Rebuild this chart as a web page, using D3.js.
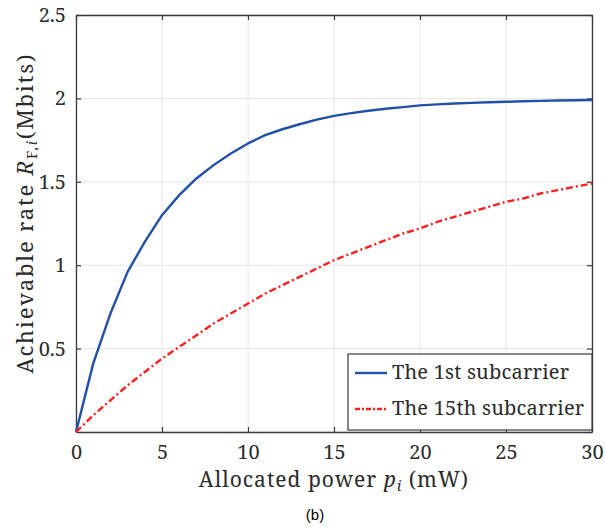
<!DOCTYPE html>
<html>
<head>
<meta charset="utf-8">
<script src="https://cdn.jsdelivr.net/npm/d3@7"></script>
<style>
  body { margin: 0; background: #fff; }
  .grid line { stroke: #e6e6e6; stroke-width: 1; }
</style>
</head>
<body>
<svg width="605" height="529"></svg>
<script>
// allocated power p_i (mW)
var power = [0, 1, 2, 3, 4, 5, 6, 7, 8, 9, 10, 11, 12, 13, 14, 15,
  16, 17, 18, 19, 20, 21, 22, 23, 24, 25, 26, 27, 28, 29, 30];

// achievable rate of the 1st subcarrier (Mbits)
var rateFirst = [0, 0.41, 0.71, 0.96, 1.14, 1.30, 1.42, 1.52, 1.60, 1.67, 1.73,
  1.78, 1.815, 1.845, 1.873, 1.895, 1.912, 1.926, 1.938, 1.948, 1.958,
  1.964, 1.969, 1.973, 1.977, 1.980, 1.983, 1.985, 1.987, 1.989, 1.99];

// achievable rate of the 15th subcarrier (Mbits)
var rateFifteenth = [0, 0.10, 0.19, 0.28, 0.36, 0.44, 0.51, 0.58, 0.65, 0.71, 0.77,
  0.83, 0.88, 0.93, 0.98, 1.03, 1.07, 1.11, 1.15, 1.19, 1.22,
  1.26, 1.29, 1.32, 1.35, 1.38, 1.40, 1.43, 1.45, 1.47, 1.49];

var xTicks = [0, 5, 10, 15, 20, 25, 30];
var yTicks = [0.5, 1, 1.5, 2, 2.5];
var yGrid = [0, 0.5, 1, 1.5, 2, 2.5];

var series = [
  { name: "The 1st subcarrier", values: rateFirst, color: "#2150a8", dash: null },
  { name: "The 15th subcarrier", values: rateFifteenth, color: "#ff1f1f", dash: "7,3,2,3" }
];

var SERIF = "'Noto Serif', 'Liberation Serif', serif";
var INK = "#2b2b2b";

var svg = d3.select("svg"),
    margin = {top: 15, right: 13, bottom: 97, left: 76},
    width = +svg.attr("width") - margin.left - margin.right,
    height = +svg.attr("height") - margin.top - margin.bottom;

var x = d3.scaleLinear().domain([0, 30]).range([0, width]);
var y = d3.scaleLinear().domain([0, 2.5]).range([height, 0]);

var g = svg.append("g")
  .attr("transform", "translate(" + margin.left + "," + margin.top + ")");

// grid
g.append("g").attr("class", "grid")
  .selectAll("line").data(xTicks).enter().append("line")
    .attr("x1", function(d) { return x(d); })
    .attr("x2", function(d) { return x(d); })
    .attr("y1", 0).attr("y2", height);
g.append("g").attr("class", "grid")
  .selectAll("line").data(yGrid).enter().append("line")
    .attr("x1", 0).attr("x2", width)
    .attr("y1", function(d) { return y(d); })
    .attr("y2", function(d) { return y(d); });

// axes with inward ticks, box on
function styleAxis(sel) {
  sel.select(".domain").attr("stroke", "#3a3a3a").attr("stroke-width", 1.3);
  sel.selectAll(".tick line").attr("stroke", "#3a3a3a").attr("stroke-width", 1.2);
  sel.selectAll("text")
    .style("font-family", SERIF)
    .style("font-size", "20px")
    .style("fill", INK);
}

g.append("g")
    .attr("transform", "translate(0," + height + ")")
    .call(d3.axisBottom(x).tickValues(xTicks).tickSizeInner(-5).tickSizeOuter(0).tickPadding(13))
    .call(styleAxis);

g.append("g")
    .call(d3.axisLeft(y).tickValues(yTicks).tickFormat(function(d) { return d; })
      .tickSizeInner(-5).tickSizeOuter(0).tickPadding(10))
    .call(styleAxis);

g.append("g")
    .call(d3.axisTop(x).tickValues(xTicks).tickSizeInner(-5).tickSizeOuter(0).tickFormat(""))
    .call(styleAxis);

g.append("g")
    .attr("transform", "translate(" + width + ",0)")
    .call(d3.axisRight(y).tickValues(yGrid).tickSizeInner(-5).tickSizeOuter(0).tickFormat(""))
    .call(styleAxis);

// lines
var line = d3.line()
  .x(function(d, i) { return x(power[i]); })
  .y(function(d) { return y(d); });

series.forEach(function(s) {
  g.append("path")
    .datum(s.values)
    .attr("fill", "none")
    .attr("stroke", s.color)
    .attr("stroke-width", 2.4)
    .attr("stroke-linejoin", "round")
    .attr("stroke-dasharray", s.dash)
    .attr("d", line);
});

// legend
var legend = g.append("g").attr("transform", "translate(" + (width - 244) + "," + (height - 78) + ")");
legend.append("rect")
  .attr("width", 244).attr("height", 76)
  .attr("fill", "#fff").attr("stroke", "#3a3a3a").attr("stroke-width", 1.2);

series.forEach(function(s, i) {
  var yy = 19 + i * 36;
  legend.append("line")
    .attr("x1", 7).attr("x2", 39).attr("y1", yy).attr("y2", yy)
    .attr("stroke", s.color).attr("stroke-width", 2.4)
    .attr("stroke-dasharray", s.dash ? "5,2,2,2" : null);
  legend.append("text")
    .attr("x", 44).attr("y", yy + 6)
    .style("font-family", SERIF).style("font-size", "20px")
    .style("letter-spacing", "0.2px").style("fill", INK)
    .text(s.name);
});

// axis labels
var xl = svg.append("text")
  .attr("x", margin.left + width / 2)
  .attr("y", 487)
  .attr("text-anchor", "middle")
  .style("font-family", SERIF).style("font-size", "21px")
  .style("letter-spacing", "1px").style("fill", INK);
xl.append("tspan").text("Allocated power ");
xl.append("tspan").style("font-style", "italic").text("p");
xl.append("tspan").style("font-style", "italic").style("font-size", "15px").attr("dy", 4).text("i");
xl.append("tspan").attr("dy", -4).text(" (mW)");

var yl = svg.append("text")
  .attr("transform", "translate(33,213) rotate(-90)")
  .attr("text-anchor", "middle")
  .style("font-family", SERIF).style("font-size", "22px")
  .style("letter-spacing", "1.8px").style("fill", INK);
yl.append("tspan").text("Achievable rate ");
yl.append("tspan").style("font-style", "italic").text("R");
yl.append("tspan").style("font-size", "14px").attr("dy", 4).text("F,");
yl.append("tspan").style("font-size", "14px").style("font-style", "italic").text("i");
yl.append("tspan").attr("dy", -4).text("(Mbits)");

// caption
svg.append("text")
  .attr("x", 315).attr("y", 520)
  .attr("text-anchor", "middle")
  .style("font-family", "'Liberation Sans', Arial, sans-serif")
  .style("font-size", "15px").style("fill", "#000")
  .text("(b)");
</script>
</body>
</html>
